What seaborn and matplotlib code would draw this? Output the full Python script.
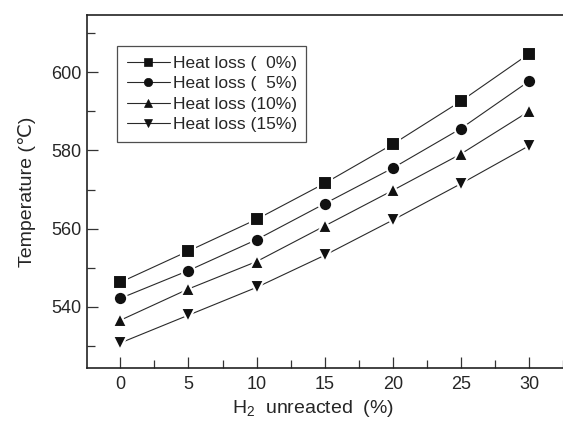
import numpy as np
import pandas as pd
import matplotlib
matplotlib.use('Agg')
import matplotlib.pyplot as plt
import seaborn as sns
from matplotlib.ticker import MultipleLocator

sns.set_style('ticks')
plt.rcParams['font.family'] = ['Liberation Sans', 'DejaVu Sans']
plt.rcParams['mathtext.default'] = 'regular'

# H2 unreacted (%)
h2 = [0, 5, 10, 15, 20, 25, 30]
# temperature for each heat loss case
loss_0 = [546.3, 554.3, 562.4, 571.6, 581.6, 592.6, 604.7]
loss_5 = [542.2, 549.3, 557.2, 566.4, 575.5, 585.6, 597.7]
loss_10 = [536.6, 544.6, 551.6, 560.7, 569.8, 579.1, 590.0]
loss_15 = [530.8, 537.9, 545.0, 553.2, 562.2, 571.5, 581.2]
labels = ['Heat loss (  0%)', 'Heat loss (  5%)', 'Heat loss (10%)', 'Heat loss (15%)']

df = pd.DataFrame({
    'h2': h2 * 4,
    'temp': loss_0 + loss_5 + loss_10 + loss_15,
    'case': np.repeat(labels, len(h2)),
})

fig = plt.figure(figsize=(5.63, 4.21), dpi=100)
ax = fig.add_axes([0.1545, 0.126, 0.8455, 0.838])

# white marker edge gives the small gap between line and marker
sns.lineplot(data=df, x='h2', y='temp', hue='case', style='case',
             palette=['#2a2a2a'] * 4, markers=['s', 'o', '^', 'v'],
             dashes=False, linewidth=0.8, markersize=9.6,
             markeredgecolor='white', markeredgewidth=1.5,
             markerfacecolor='#111111',
             ax=ax, legend=True)

ax.set_xlim(-2.45, 32.5)
ax.set_ylim(524.4, 614.6)
ax.xaxis.set_major_locator(MultipleLocator(5))
ax.xaxis.set_minor_locator(MultipleLocator(2.5))
ax.yaxis.set_major_locator(MultipleLocator(20))
ax.yaxis.set_minor_locator(MultipleLocator(10))
ax.tick_params(which='both', direction='in', labelsize=13, width=0.9, color='#333333')
ax.tick_params(which='major', length=8)
ax.tick_params(which='minor', length=6)
ax.tick_params(axis='x', pad=6)
ax.tick_params(axis='y', pad=4)
ax.spines['right'].set_visible(False)
for s in ['left', 'bottom', 'top']:
    ax.spines[s].set_linewidth(1.2)
    ax.spines[s].set_color('#222222')

ax.set_xlabel(r'H$_2$  unreacted  (%)', fontsize=14, labelpad=2)
ax.xaxis.set_label_coords(0.475, -0.085)
ax.set_ylabel('Temperature (\u2103)', fontsize=14, labelpad=11)

h, l = ax.get_legend_handles_labels()
leg = ax.legend(h, l, loc='upper left', bbox_to_anchor=(0.063, 0.912),
                frameon=True, fancybox=False, fontsize=12.5, handlelength=2.5,
                handletextpad=0.15, labelspacing=0.3, borderpad=0.55,
                borderaxespad=0)
leg.get_frame().set_edgecolor('#222222')
leg.get_frame().set_linewidth(0.9)
for lh in leg.legend_handles:
    lh.set_markersize(6)
    lh.set_markeredgecolor('#111111')
    lh.set_markeredgewidth(0.5)

fig.savefig('out.png', dpi=100)
